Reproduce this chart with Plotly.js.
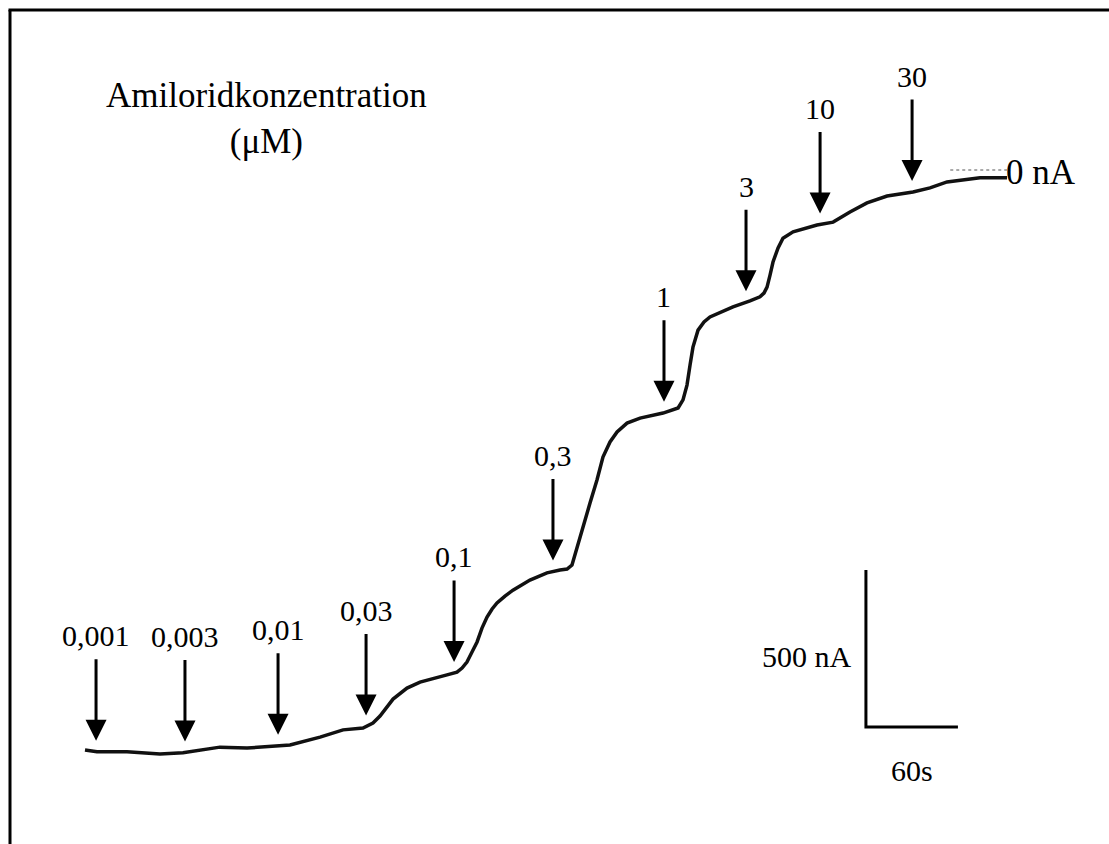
<!DOCTYPE html>
<html>
<head>
<meta charset="utf-8">
<script src="https://cdn.plot.ly/plotly-3.0.1.min.js"></script>
<style>
  html, body { margin: 0; padding: 0; background: #fff; }
  #chart { width: 1109px; height: 844px; }
</style>
</head>
<body>
<div id="chart"></div>
<script>
// Whole-cell current recording during cumulative amiloride application
// time in s, current in nA (0 nA = fully blocked level)
const timeSec = [0, 7.8, 27.4, 48.9, 63.9, 75.0, 88.0, 105.7, 133.7, 153.3, 168.3, 181.3, 187.8,
  192.4, 197.0, 200.9, 210.0, 218.5, 236.1, 242.6, 245.9, 249.1, 252.4, 255.7, 258.9, 262.2,
  265.5, 268.7, 273.9, 279.1, 290.2, 301.3, 309.8, 314.4, 317.6, 320.9, 324.8, 329.4, 333.9,
  337.8, 342.4, 347.0, 353.5, 362.0, 377.0, 386.8, 390.0, 392.6, 394.6, 396.5, 399.8, 403.7,
  407.6, 422.6, 433.7, 440.2, 442.8, 444.8, 446.8, 448.7, 452.0, 455.2, 461.8, 477.4, 487.9,
  498.9, 510.0, 523.1, 540.0, 551.1, 562.2, 575.2, 583.7, 601.3];
const currentNA = [-1847, -1853, -1853, -1860, -1856, -1847, -1838, -1841, -1831, -1806, -1783,
  -1777, -1761, -1739, -1710, -1685, -1650, -1631, -1608, -1599, -1586, -1567, -1535, -1503,
  -1459, -1424, -1398, -1379, -1357, -1338, -1306, -1283, -1274, -1271, -1258, -1201, -1137,
  -1060, -987, -914, -866, -834, -806, -790, -774, -758, -732, -685, -621, -564, -510, -484,
  -468, -436, -417, -404, -392, -373, -334, -293, -248, -217, -197, -175, -166, -134, -105,
  -83, -70, -57, -38, -29, -25, -25];

// Application times of each amiloride concentration
const doseTimes = [7.2, 65.2, 125.9, 183.3, 240.7, 305.2, 377.6, 431.1, 479.4, 539.4];
const doseLabels = ['0,001', '0,003', '0,01', '0,03', '0,1', '0,3', '1', '3', '10', '30'];

// Scale bar: 60 s by 500 nA
const scaleBarTime = 60;
const scaleBarCurrent = 500;

// Layout geometry (pixels per unit, so the bars keep their printed size)
const W = 1109, H = 844;
const SEC_PER_PX = 60 / 92;
const NA_PER_PX = 500 / 157;
const X0_PX = 85;     // pixel column of t = 0
const Y0_PX = 170;    // pixel row of 0 nA
const xRange = [-X0_PX * SEC_PER_PX, (W - X0_PX) * SEC_PER_PX];
const yRange = [(Y0_PX - H) * NA_PER_PX, Y0_PX * NA_PER_PX];

const serif = 'Liberation Serif, Times New Roman, serif';

function traceAt(t) {
  for (let i = 1; i < timeSec.length; i++) {
    if (t <= timeSec[i]) {
      const f = (t - timeSec[i - 1]) / (timeSec[i] - timeSec[i - 1]);
      return currentNA[i - 1] + f * (currentNA[i] - currentNA[i - 1]);
    }
  }
  return currentNA[currentNA.length - 1];
}

const recording = {
  x: timeSec, y: currentNA, type: 'scatter', mode: 'lines',
  line: { color: '#111', width: 3.5 }, hoverinfo: 'skip', showlegend: false
};

// scale bar anchored at its corner
const barT = 509.3, barI = -1774;
const scaleBar = {
  x: [barT, barT, barT + scaleBarTime],
  y: [barI + scaleBarCurrent, barI, barI],
  type: 'scatter', mode: 'lines',
  line: { color: '#000', width: 3 }, hoverinfo: 'skip', showlegend: false
};

// dotted zero-current reference
const endT = timeSec[timeSec.length - 1];
const zeroLine = {
  x: [endT - 37, endT], y: [0, 0], type: 'scatter', mode: 'lines',
  line: { color: '#555', width: 1, dash: 'dot' }, hoverinfo: 'skip', showlegend: false
};

const annotations = [];
const gapPx = 11, arrowPx = 83, labelPx = 105;
doseTimes.forEach((t, i) => {
  const tip = traceAt(t) + gapPx * NA_PER_PX;
  annotations.push({
    x: t, y: tip, xref: 'x', yref: 'y', text: '', showarrow: true,
    ax: 0, ay: -arrowPx, arrowhead: 2, arrowsize: 1.4, arrowwidth: 3, arrowcolor: '#000'
  });
  annotations.push({
    x: t, y: tip, xref: 'x', yref: 'y', text: doseLabels[i], showarrow: false,
    yshift: labelPx, xanchor: 'center', yanchor: 'middle',
    font: { family: serif, size: 30, color: '#000' }
  });
});

annotations.push({
  x: endT, y: 0, xref: 'x', yref: 'y', text: '0 nA', showarrow: false,
  xanchor: 'left', yanchor: 'middle', yshift: -2, xshift: -3,
  font: { family: serif, size: 35, color: '#000' }
});
annotations.push({
  x: barT, y: barI + scaleBarCurrent / 2, xref: 'x', yref: 'y', text: '500 nA', showarrow: false,
  xanchor: 'right', yanchor: 'middle', xshift: -12, yshift: -8,
  font: { family: serif, size: 30, color: '#000' }
});
annotations.push({
  x: barT + scaleBarTime / 2, y: barI, xref: 'x', yref: 'y', text: '60s', showarrow: false,
  xanchor: 'center', yanchor: 'middle', yshift: -43,
  font: { family: serif, size: 30, color: '#000' }
});
annotations.push({
  x: 266 / W, y: 1 - 119 / H, xref: 'paper', yref: 'paper',
  text: 'Amiloridkonzentration<br>(μM)', showarrow: false,
  xanchor: 'center', yanchor: 'middle', align: 'center',
  font: { family: serif, size: 35, color: '#000' }
});

const layout = {
  width: W, height: H,
  margin: { l: 0, r: 0, t: 0, b: 0 },
  paper_bgcolor: '#fff', plot_bgcolor: '#fff',
  font: { family: serif },
  xaxis: { range: xRange, visible: false, fixedrange: true },
  yaxis: { range: yRange, visible: false, fixedrange: true },
  showlegend: false,
  annotations: annotations,
  shapes: [
    { type: 'line', xref: 'paper', yref: 'paper', x0: 10 / W, x1: 10 / W, y0: 0, y1: 1 - 10 / H,
      line: { color: '#000', width: 3 } },
    { type: 'line', xref: 'paper', yref: 'paper', x0: 8.5 / W, x1: 1, y0: 1 - 10 / H, y1: 1 - 10 / H,
      line: { color: '#000', width: 3 } }
  ]
};

Plotly.newPlot('chart', [zeroLine, recording, scaleBar], layout, { displayModeBar: false, staticPlot: true });
</script>
</body>
</html>
